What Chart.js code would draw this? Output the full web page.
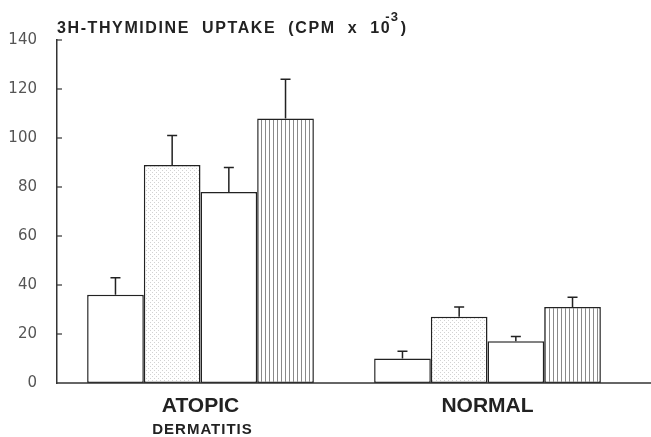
<!DOCTYPE html>
<html>
<head>
<meta charset="utf-8">
<script src="https://cdn.jsdelivr.net/npm/chart.js@4.4.0/dist/chart.umd.min.js"></script>
<style>
  body { margin: 0; background: #fff; }
  #wrap { width: 651px; height: 437px; }
</style>
</head>
<body>
<div id="wrap"><canvas id="chart"></canvas></div>
<script>
// groups on the x axis
var groups = ['ATOPIC', 'NORMAL'];
var groupSub = ['DERMATITIS', ''];

// 3H-thymidine uptake (cpm x 10^-3), four bars per group
var barA = [36, 10];
var barB = [89, 27];
var barC = [78, 17];
var barD = [108, 31];

// upper error (SEM) for each bar
var errA = [7, 3];
var errB = [12, 4];
var errC = [10, 2];
var errD = [16, 4];

var yTicks = [0, 20, 40, 60, 80, 100, 120, 140];

// fill patterns
function dotPattern() {
    var c = document.createElement('canvas');
    c.width = 4; c.height = 4;
    var g = c.getContext('2d');
    g.fillStyle = '#fff';
    g.fillRect(0, 0, 4, 4);
    g.fillStyle = '#d2d2d2';
    g.fillRect(0, 0, 1, 1);
    g.fillRect(2, 2, 1, 1);
    return g.createPattern(c, 'repeat');
}

function linePattern() {
    var c = document.createElement('canvas');
    c.width = 4; c.height = 4;
    var g = c.getContext('2d');
    g.fillStyle = '#fff';
    g.fillRect(0, 0, 4, 4);
    g.fillStyle = '#8a8a8a';
    g.fillRect(1, 0, 1, 4);
    return g.createPattern(c, 'repeat');
}

var errors = [errA, errB, errC, errD];

// error bars, inward y ticks, long baseline, title and second label line
var extras = {
    id: 'extras',
    afterDatasetsDraw: function(chart) {
        var ctx = chart.ctx;
        var y = chart.scales.y;
        ctx.save();
        ctx.strokeStyle = '#222';
        ctx.lineWidth = 1.5;
        chart.data.datasets.forEach(function(ds, i) {
            var meta = chart.getDatasetMeta(i);
            meta.data.forEach(function(bar, j) {
                var top = y.getPixelForValue(ds.data[j] + errors[i][j]);
                ctx.beginPath();
                ctx.moveTo(bar.x, bar.y);
                ctx.lineTo(bar.x, top);
                ctx.moveTo(bar.x - 5, top);
                ctx.lineTo(bar.x + 5, top);
                ctx.stroke();
            });
        });
        ctx.restore();
    },
    afterDraw: function(chart) {
        var ctx = chart.ctx;
        var area = chart.chartArea;
        var y = chart.scales.y;
        var x = chart.scales.x;
        ctx.save();
        ctx.strokeStyle = '#333';
        ctx.lineWidth = 1.5;
        // baseline runs to the right edge
        var y0 = y.getPixelForValue(0);
        ctx.beginPath();
        ctx.moveTo(area.left, y0);
        ctx.lineTo(chart.width, y0);
        ctx.stroke();
        // ticks pointing into the plot
        ctx.lineWidth = 1.2;
        yTicks.forEach(function(v) {
            if (v === 0) return;
            var py = y.getPixelForValue(v);
            ctx.beginPath();
            ctx.moveTo(area.left, py);
            ctx.lineTo(area.left + 5, py);
            ctx.stroke();
        });
        // title
        ctx.fillStyle = '#222';
        ctx.textBaseline = 'alphabetic';
        ctx.textAlign = 'left';
        ctx.font = 'bold 16px "Liberation Sans", Arial, sans-serif';
        ctx.letterSpacing = '1.6px';
        var main = '3H-THYMIDINE  UPTAKE  (CPM  x  10';
        ctx.fillText(main, 57, 33);
        var w = ctx.measureText(main).width;
        ctx.font = 'bold 13px "Liberation Sans", Arial, sans-serif';
        ctx.letterSpacing = '1px';
        ctx.fillText('-3', 57 + w - 6, 21);
        var w2 = ctx.measureText('-3').width;
        ctx.font = 'bold 16px "Liberation Sans", Arial, sans-serif';
        ctx.fillText(')', 57 + w - 4 + w2, 33);
        // second line of group label
        ctx.font = 'bold 15px "Liberation Sans", Arial, sans-serif';
        ctx.letterSpacing = '1px';
        ctx.textAlign = 'center';
        groupSub.forEach(function(s, i) {
            if (s) ctx.fillText(s, x.getPixelForValue(i) + 2, 434);
        });
        ctx.restore();
    }
};

var ctx = document.getElementById('chart').getContext('2d');
var myBarChart = new Chart(ctx, {
    type: 'bar',
    data: {
        labels: groups,
        datasets: [
            { data: barA, backgroundColor: '#fff' },
            { data: barB, backgroundColor: dotPattern() },
            { data: barC, backgroundColor: '#fff' },
            { data: barD, backgroundColor: linePattern() }
        ]
    },
    options: {
        responsive: true,
        maintainAspectRatio: false,
        animation: false,
        layout: { padding: { top: 40, right: 20, left: 0, bottom: 0 } },
        datasets: {
            bar: {
                borderColor: '#222',
                borderWidth: 1.5,
                borderSkipped: false,
                barPercentage: 1.0,
                categoryPercentage: 0.79
            }
        },
        plugins: {
            legend: { display: false },
            tooltip: { enabled: false }
        },
        scales: {
            x: {
                grid: { display: false },
                border: { display: false },
                ticks: {
                    color: '#222',
                    padding: 3,
                    font: { family: '"Liberation Sans", Arial, sans-serif', size: 21, weight: 'bold' }
                },
                afterFit: function(scale) { scale.height = 54; }
            },
            y: {
                min: 0,
                max: 140,
                afterBuildTicks: function(scale) {
                    scale.ticks = yTicks.map(function(v) { return { value: v }; });
                },
                grid: { display: false },
                border: { display: true, color: '#333', width: 1.5 },
                ticks: {
                    color: '#555',
                    padding: 12,
                    font: { family: '"DejaVu Sans", sans-serif', size: 15 }
                },
                afterFit: function(scale) { scale.width = 57; }
            }
        }
    },
    plugins: [extras]
});
</script>
</body>
</html>
